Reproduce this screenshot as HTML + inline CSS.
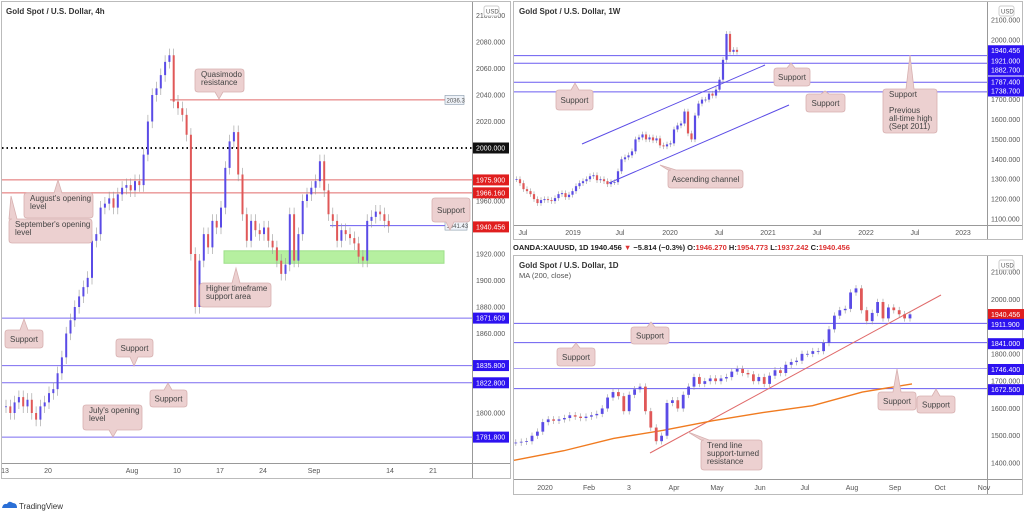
<!DOCTYPE html>
<html><head><meta charset="utf-8">
<style>
html,body{margin:0;padding:0;background:#fff;}
svg{display:block;font-family:"Liberation Sans",sans-serif;}
.ax{font-size:7px;fill:#555;}
.tt{font-size:8px;fill:#333;font-weight:bold;}
.cl{font-size:8px;fill:#444;}
.pl{font-size:7px;fill:#fff;}
</style></head>
<body>
<svg id="c" width="1024" height="513" viewBox="0 0 1024 513" xmlns="http://www.w3.org/2000/svg">
<rect x="1.5" y="1.5" width="509" height="477" fill="#fff" stroke="#bbb"/>
<rect x="513.5" y="1.5" width="509" height="238" fill="#fff" stroke="#bbb"/>
<rect x="513.5" y="255.5" width="509" height="239" fill="#fff" stroke="#bbb"/>
<line x1="472.5" y1="2" x2="472.5" y2="478" stroke="#999"/>
<line x1="2" y1="463.5" x2="510" y2="463.5" stroke="#999"/>
<line x1="987.5" y1="2" x2="987.5" y2="239" stroke="#999"/>
<line x1="514" y1="225.5" x2="1022" y2="225.5" stroke="#999"/>
<line x1="987.5" y1="256" x2="987.5" y2="494" stroke="#999"/>
<line x1="514" y1="479.5" x2="1022" y2="479.5" stroke="#999"/>

<text x="6" y="14" class="tt">Gold Spot / U.S. Dollar, 4h</text>
<text x="519" y="14" class="tt">Gold Spot / U.S. Dollar, 1W</text>
<text x="519" y="268" class="tt">Gold Spot / U.S. Dollar, 1D</text>
<text x="519" y="278" class="ax" style="font-size:7.5px">MA (200, close)</text>
<text x="513" y="250" style="font-size:7.5px;font-weight:bold" fill="#222">OANDA:XAUUSD, 1D 1940.456 <tspan fill="#d33">▼</tspan> −5.814 (−0.3%) O:<tspan fill="#d33">1946.270</tspan> H:<tspan fill="#d33">1954.773</tspan> L:<tspan fill="#d33">1937.242</tspan> C:<tspan fill="#d33">1940.456</tspan></text>

<g id="g1"></g><g id="g2"></g><g id="g3"></g>

<g>
<path d="M2 508 q1 -5 5 -4 q2 -4 6 -1 q4 0 4 5 z" fill="#2a6fd6"/>
<text x="19" y="509" style="font-size:8px" fill="#333">TradingView</text>
</g>
</svg>
<script>
const p1Closes=[1805,1800,1808,1812,1805,1810,1800,1795,1805,1808,
1815,1818,1830,1842,1860,1870,1880,1888,1895,1902,
1930,1935,1955,1958,1962,1955,1965,1970,1972,1968,
1975,1972,1995,2020,2040,2045,2055,2065,2070,2035,
2030,2025,2010,1920,1880,1915,1935,1925,1945,1940,
1955,1985,2005,2012,1980,1950,1930,1945,1938,1935,
1940,1930,1925,1915,1905,1912,1950,1915,1935,1960,
1965,1970,1975,1990,1968,1950,1945,1930,1938,1935,
1932,1928,1918,1915,1945,1948,1952,1950,1945,1941];
const p1TimeLabels=["13","20","Aug","10","17","24","Sep","14","21"];
const p1PriceTicks=[2100,2080,2060,2040,2020,1960,1920,1900,1880,1860,1800];
const p1RedLevels=[1975.9,1966.16];
const p1BlueLevels=[1871.609,1835.8,1822.8,1781.8];
const p2Closes=[1300,1280,1250,1240,1225,1200,1180,1195,1200,1195,1190,1205,1225,1230,1210,1222,1240,1265,1280,1290,1300,1315,1320,1295,1300,1290,1275,1285,1285,1340,1400,1410,1420,1440,1500,1510,1525,1500,1510,1495,1505,1470,1465,1475,1480,1550,1570,1580,1640,1530,1500,1620,1680,1700,1700,1730,1720,1750,1800,1900,2030,1940,1950,1940];
const p2TimeLabels=["Jul","2019","Jul","2020","Jul","2021","Jul","2022","Jul","2023"];
const p2PriceTicks=[2100,2000,1700,1600,1500,1400,1300,1200,1100];
const p2Levels=[1921,1882.7,1787.4,1738.7];
const p3Closes=[1475,1478,1480,1500,1515,1550,1560,1555,1560,1565,1575,1570,1565,1570,1575,1580,1600,1640,1660,1645,1590,1650,1670,1680,1590,1530,1480,1500,1620,1630,1600,1650,1680,1715,1690,1700,1710,1700,1710,1715,1735,1745,1730,1725,1700,1715,1690,1720,1740,1730,1760,1770,1775,1800,1800,1810,1810,1840,1890,1940,1960,1965,2025,2040,1960,1920,1950,1990,1930,1970,1960,1945,1930,1945];
const p3MA=[1410,1445,1490,1520,1555,1585,1610,1660,1690];
const p3TimeLabels=["2020","Feb","3","Apr","May","Jun","Jul","Aug","Sep","Oct","Nov"];
const p3PriceTicks=[2100,2000,1800,1700,1600,1500,1400];
const p3Levels=[1911.9,1841,1746.4,1672.5];

const NS="http://www.w3.org/2000/svg";
function mk(par,tag,at){const e=document.createElementNS(NS,tag);for(const k in at)e.setAttribute(k,at[k]);par.appendChild(e);return e;}
const UP="#5a4be6",DN="#e05858";

function candles(g,closes,xf,yf,wick,w){
  closes.forEach((c,i)=>{
    const o=i?closes[i-1]:c;const x=xf(i);
    const hi=Math.max(o,c)+wick,lo=Math.min(o,c)-wick;
    const col=c>=o?UP:DN;
    const l=mk(g,"line",{x1:x,x2:x,y1:yf(hi),y2:yf(lo),stroke:"#999","stroke-width":0.6});
    
    
    const y1=yf(Math.max(o,c)),y2=yf(Math.min(o,c));
    const r=mk(g,"rect",{x:x-w/2,y:y1,width:w,height:Math.max(0.8,y2-y1),fill:col});
    
    
  });
}
function hline(g,y,x1,x2,col,name,dash){const l=mk(g,"line",{x1:x1,x2:x2,y1:y,y2:y,stroke:col,"stroke-width":1});if(dash){l.setAttribute("stroke-dasharray",dash);l.setAttribute("stroke-width",2);}
  
  }
function tick(g,x,y,txt){const t=mk(g,"text",{x:x,y:y+2.5,class:"ax"});t.textContent=txt;
  
  }
function plabel(g,x,y,txt,bg,fg){const r=mk(g,"rect",{x:x,y:y-5.5,width:36,height:11,fill:bg});
  
  
  const t=mk(g,"text",{x:x+3,y:y+2.5,class:"pl",fill:fg||"#fff"});t.textContent=txt;
  
  }
function tlabels(g,labels,xs,y){labels.forEach((s,i)=>{const t=mk(g,"text",{x:xs[i],y:y,class:"ax","text-anchor":"middle"});t.textContent=s;
  
  });}
function callout(g,x,y,w,h,px,py,lines,name){
  const bx=Math.max(x+4,Math.min(px,x+w-4));
  let d;
  if(py<y) d=`M${x+3} ${y} H${bx-4} L${px} ${py} L${bx+4} ${y} H${x+w-3} Q${x+w} ${y} ${x+w} ${y+3} V${y+h-3} Q${x+w} ${y+h} ${x+w-3} ${y+h} H${x+3} Q${x} ${y+h} ${x} ${y+h-3} V${y+3} Q${x} ${y} ${x+3} ${y}Z`;
  else d=`M${x+3} ${y} H${x+w-3} Q${x+w} ${y} ${x+w} ${y+3} V${y+h-3} Q${x+w} ${y+h} ${x+w-3} ${y+h} H${bx+4} L${px} ${py} L${bx-4} ${y+h} H${x+3} Q${x} ${y+h} ${x} ${y+h-3} V${y+3} Q${x} ${y} ${x+3} ${y}Z`;
  const p=mk(g,"path",{d:d,fill:"#ecd0d0",stroke:"#d7b0b0","stroke-width":0.8});
  
  
  lines.forEach((s,i)=>{const t=mk(g,"text",{x:x+(lines.length==1?w/2:6),y:y+(lines.length==1?h/2+3:8+i*8),class:"cl","text-anchor":lines.length==1?"middle":"start"});t.textContent=s;
    
    });
}

(function(){
const g=document.getElementById("g1");
const y=p=>42+(2080-p)*1.325;
const x=i=>6+i*4.3;
const z=mk(g,"rect",{x:224,y:y(1922.4),width:220,height:y(1913)-y(1922.4),fill:"#b6f0a0",stroke:"#9ee08a"});


hline(g,y(2036.3),170,445,"#e06a6a","quasimodo-resistance-line");
hline(g,y(2000),2,472,"#111","level-2000-line","1.5,3");
p1RedLevels.forEach(v=>hline(g,y(v),2,472,"#e06a6a","red-level-line"));
p1BlueLevels.forEach(v=>hline(g,y(v),2,472,"#7b6cf0","support-level-line"));
hline(g,y(1941.43),330,446,"#6a5cf0","support-1941-line");
candles(g,p1Closes,x,y,5,2);
p1PriceTicks.forEach(v=>tick(g,476,y(v),v.toFixed(3)));
plabel(g,473,y(2000),"2000.000","#111");
p1RedLevels.forEach(v=>plabel(g,473,y(v),v.toFixed(3),"#e01e1e"));
plabel(g,473,y(1940.456),"1940.456","#e01e1e");
p1BlueLevels.forEach(v=>plabel(g,473,y(v),v.toFixed(3),"#2d12f0"));
const b1=mk(g,"rect",{x:445,y:y(2036.3)-4.5,width:19,height:9,fill:"#eef2f8",stroke:"#8899aa","stroke-width":0.6});

const t1=mk(g,"text",{x:446.5,y:y(2036.3)+2.5,class:"ax",style:"font-size:6px"});t1.textContent="2036.3";
const b2=mk(g,"rect",{x:445,y:y(1941.43)-4.5,width:22,height:9,fill:"#eef2f8",stroke:"#8899aa","stroke-width":0.6});

const t2=mk(g,"text",{x:446.5,y:y(1941.43)+2.5,class:"ax",style:"font-size:6px"});t2.textContent="1941.43";
const u=mk(g,"rect",{x:484,y:6,width:15,height:10,fill:"#fff",stroke:"#ccc",rx:2});
const ut=mk(g,"text",{x:486,y:13.5,class:"ax",style:"font-size:6px"});ut.textContent="USD";
tlabels(g,p1TimeLabels,[5,48,132,177,220,263,314,390,433],473);
callout(g,195,69,49,23,219,99,["Quasimodo","resistance"],"callout-quasimodo");
callout(g,24,193,69,25,58,180,["August's opening","level"],"callout-august-open");
callout(g,9,219,83,24,11,196,["September's opening","level"],"callout-september-open");
callout(g,432,198,38,24,450,230,["Support"],"callout-support-1941");
callout(g,200,283,71,24,236,268,["Higher timeframe","support area"],"callout-htf-support");
callout(g,5,330,38,18,24,319,["Support"],"callout-support-1871");
callout(g,116,339,37,18,134,366,["Support"],"callout-support-1835");
callout(g,150,390,37,17,168,383,["Support"],"callout-support-1822");
callout(g,83,405,59,25,113,437,["July's opening","level"],"callout-july-open");
})();

(function(){
const g=document.getElementById("g2");
const y=p=>20+(2100-p)*0.199;
const n=p2Closes.length;const x=i=>737-(n-1-i)*3.5;
p2Levels.forEach(v=>hline(g,y(v),514,987,"#6a5cf0","weekly-support-line"));
const c1=mk(g,"line",{x1:582,y1:144,x2:765,y2:65,stroke:"#5a4be6","stroke-width":1});

const c2=mk(g,"line",{x1:609,y1:183,x2:789,y2:105,stroke:"#5a4be6","stroke-width":1});

candles(g,p2Closes,x,y,14,2.2);
p2PriceTicks.forEach(v=>tick(g,991,y(v),v.toFixed(3)));
plabel(g,988,y(1940.456)-1,"1940.456","#2d12f0");
p2Levels.forEach((v,i)=>plabel(g,988,[61,70,82,91][i],v.toFixed(3),"#2d12f0"));
const u=mk(g,"rect",{x:999,y:6,width:15,height:10,fill:"#fff",stroke:"#ccc",rx:2});
const ut=mk(g,"text",{x:1001,y:13.5,class:"ax",style:"font-size:6px"});ut.textContent="USD";
tlabels(g,p2TimeLabels,[523,573,620,670,719,768,817,866,915,963],235);
callout(g,774,68,36,18,791,63,["Support"],"callout-weekly-support-1");
callout(g,556,90,37,20,575,83,["Support"],"callout-weekly-support-2");
callout(g,806,94,39,18,825,91,["Support"],"callout-weekly-support-3");
callout(g,883,89,54,44,910,55,["Support","","Previous","all-time high","(Sept 2011)"],"callout-previous-ath");
callout(g,668,170,75,18,660,165,["Ascending channel"],"callout-ascending-channel");
})();

(function(){
const g=document.getElementById("g3");
const y=p=>272+(2100-p)*0.2729;
const n=p3Closes.length;const x=i=>910-(n-1-i)*5.4;
p3Levels.forEach((v,i)=>hline(g,y(v),514,987,i==2?"#a99df5":"#6a5cf0","daily-support-line"));
const tl=mk(g,"line",{x1:650,y1:453,x2:941,y2:295,stroke:"#e06a6a","stroke-width":1});

const mx=i=>514+i*(912-514)/(p3MA.length-1);
const ma=mk(g,"polyline",{points:p3MA.map((v,i)=>mx(i)+","+y(v)).join(" "),fill:"none",stroke:"#f07b20","stroke-width":1.4});

candles(g,p3Closes,x,y,12,2.8);
p3PriceTicks.forEach(v=>tick(g,991,y(v),v.toFixed(3)));
plabel(g,988,y(1940.456)-1,"1940.456","#e01e1e");
p3Levels.forEach(v=>plabel(g,988,y(v)+1,v.toFixed(3),"#2d12f0"));
const u=mk(g,"rect",{x:999,y:260,width:15,height:10,fill:"#fff",stroke:"#ccc",rx:2});
const ut=mk(g,"text",{x:1001,y:267.5,class:"ax",style:"font-size:6px"});ut.textContent="USD";
tlabels(g,p3TimeLabels,[545,589,629,674,717,760,805,852,895,940,984],490);
callout(g,631,327,38,17,651,322,["Support"],"callout-daily-support-1911");
callout(g,557,348,38,18,576,343,["Support"],"callout-daily-support-1841");
callout(g,878,392,38,18,897,369,["Support"],"callout-daily-support-1746");
callout(g,917,396,38,17,936,389,["Support"],"callout-daily-support-1672");
callout(g,701,440,61,30,688,432,["Trend line","support-turned","resistance"],"callout-trendline");
})();
</script>
</body></html>
